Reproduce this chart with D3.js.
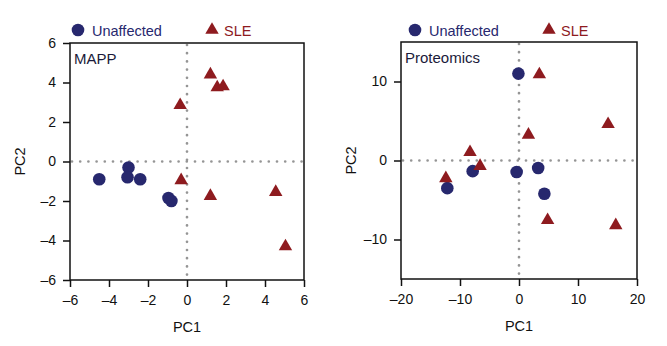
<!DOCTYPE html>
<html>
<head>
<meta charset="utf-8">
<script src="https://cdn.jsdelivr.net/npm/d3@7"></script>
<style>
  body { margin: 0; background: #fff; }
  svg { font-family: "Liberation Sans", Arial, sans-serif; }
</style>
</head>
<body>
<svg id="chart" width="667" height="346"></svg>
<script>
// MAPP panel
const mappUnaffected = [[-4.5, -0.9], [-3.0, -0.3], [-3.05, -0.8], [-2.4, -0.9], [-0.95, -1.85], [-0.8, -2.0]];
const mappSLE = [[1.2, 4.4], [1.55, 3.75], [1.85, 3.8], [-0.35, 2.85], [-0.3, -0.95], [1.2, -1.75], [4.55, -1.55], [5.05, -4.3]];
const mappXTicks = [-6, -4, -2, 0, 2, 4, 6];
const mappYTicks = [-6, -4, -2, 0, 2, 4, 6];

// Proteomics panel
const protUnaffected = [[-0.1, 11.0], [-7.85, -1.35], [-12.15, -3.5], [-0.4, -1.45], [3.25, -0.95], [4.3, -4.2]];
const protSLE = [[3.45, 10.9], [15.1, 4.6], [1.6, 3.25], [-8.3, 1.05], [-6.6, -0.7], [-12.4, -2.25], [4.85, -7.55], [16.4, -8.2]];
const protXTicks = [-20, -10, 0, 10, 20];
const protYTicks = [-10, 0, 10];

const navy = '#27286e';
const darkred = '#8e1b1f';

const svg = d3.select('#chart');

const fmt = d => d < 0 ? '\u2013' + Math.abs(d) : String(d);

function drawPanel(opts) {
    const g = svg.append('g');
    const x = d3.scaleLinear().domain(opts.xDomain).range([opts.left, opts.right]);
    const y = d3.scaleLinear().domain(opts.yDomain).range([opts.bottom, opts.top]);

    // dotted zero lines
    g.append('line')
        .attr('x1', x(0)).attr('x2', x(0))
        .attr('y1', opts.top + 2).attr('y2', opts.bottom)
        .attr('stroke', '#959595').attr('stroke-width', 2.7)
        .attr('stroke-dasharray', '0,8.2').attr('stroke-linecap', 'round');
    g.append('line')
        .attr('x1', opts.left + 2).attr('x2', opts.right)
        .attr('y1', y(0)).attr('y2', y(0))
        .attr('stroke', '#959595').attr('stroke-width', 2.7)
        .attr('stroke-dasharray', '0,8.2').attr('stroke-linecap', 'round');

    // axes
    const xAxis = d3.axisBottom(x).tickValues(opts.xTicks).tickSize(7).tickPadding(8).tickFormat(fmt);
    const yAxis = d3.axisLeft(y).tickValues(opts.yTicks).tickSize(7).tickPadding(7).tickFormat(fmt);

    g.append('g').attr('transform', `translate(0,${opts.bottom})`).call(xAxis)
        .call(a => a.select('.domain').remove());
    g.append('g').attr('transform', `translate(${opts.left},0)`).call(yAxis)
        .call(a => a.select('.domain').remove());
    g.selectAll('.tick line').attr('stroke', '#111').attr('stroke-width', 1.5);
    g.selectAll('.tick text').attr('font-size', 14).attr('fill', '#111')
        .attr('font-family', '"Liberation Sans", Arial, sans-serif');

    // frame
    g.append('rect')
        .attr('x', opts.left).attr('y', opts.top)
        .attr('width', opts.right - opts.left).attr('height', opts.bottom - opts.top)
        .attr('fill', 'none').attr('stroke', '#111').attr('stroke-width', 1.5);

    // points
    g.selectAll('.unaff').data(opts.unaffected).enter()
        .append('circle')
        .attr('cx', d => x(d[0])).attr('cy', d => y(d[1]))
        .attr('r', 6.3).attr('fill', navy);

    g.selectAll('.sle').data(opts.sle).enter()
        .append('path')
        .attr('d', d3.symbol().type(d3.symbolTriangle).size(78))
        .attr('transform', d => `translate(${x(d[0])},${y(d[1])})`)
        .attr('fill', darkred);

    // panel label
    g.append('text').attr('x', opts.left + 4).attr('y', opts.top + 21)
        .attr('font-size', 15).attr('fill', '#1a1a3a').text(opts.label);

    // axis titles
    g.append('text').attr('x', (opts.left + opts.right) / 2).attr('y', opts.bottom + 52)
        .attr('text-anchor', 'middle').attr('font-size', 14.5).attr('fill', '#111').text('PC1');
    g.append('text')
        .attr('transform', `translate(${opts.left - 45},${(opts.top + opts.bottom) / 2}) rotate(-90)`)
        .attr('text-anchor', 'middle').attr('font-size', 14.5).attr('fill', '#111').text('PC2');

    // legend
    const ly = 30;
    const lx = opts.left + opts.legendShift;
    g.append('circle').attr('cx', lx + 8).attr('cy', ly).attr('r', 6.3).attr('fill', navy);
    g.append('text').attr('x', lx + 22).attr('y', ly + 5.5)
        .attr('font-size', 14.5).attr('fill', navy).text('Unaffected');
    g.append('path')
        .attr('d', d3.symbol().type(d3.symbolTriangle).size(78))
        .attr('transform', `translate(${lx + 142},${ly})`)
        .attr('fill', darkred);
    g.append('text').attr('x', lx + 154).attr('y', ly + 5.5)
        .attr('font-size', 14.5).attr('fill', darkred).text('SLE');
}

drawPanel({
    left: 70, right: 304, top: 43, bottom: 280,
    xDomain: [-6, 6], yDomain: [-6, 6],
    xTicks: mappXTicks, yTicks: mappYTicks,
    unaffected: mappUnaffected, sle: mappSLE, label: 'MAPP', legendShift: 0
});

drawPanel({
    left: 401, right: 637, top: 42, bottom: 279,
    xDomain: [-20, 20], yDomain: [-15, 15],
    xTicks: protXTicks, yTicks: protYTicks,
    unaffected: protUnaffected, sle: protSLE, label: 'Proteomics', legendShift: 6
});
</script>
</body>
</html>
